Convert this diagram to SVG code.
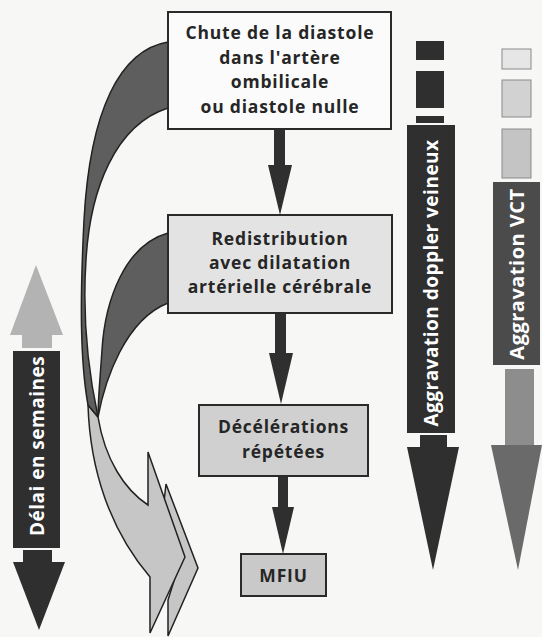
<svg xmlns="http://www.w3.org/2000/svg" width="542" height="637" viewBox="0 0 542 637">
<style>
.bg{fill:#f7f7f6}
.box{stroke:#2a2a2a;stroke-width:2}
.t{font-family:"Open Sans","Liberation Sans",sans-serif;font-weight:700;font-size:17.5px;letter-spacing:0.8px;fill:#262626;text-anchor:middle}
.wt{font-family:"Open Sans","Liberation Sans",sans-serif;font-weight:700;font-size:19px;letter-spacing:0.5px;fill:#ffffff;text-anchor:middle}
.dk{fill:#2f2f2f}
.sw{stroke:#222;stroke-width:1.5;stroke-linejoin:miter}
</style>
<rect class="bg" x="0" y="0" width="542" height="637"/>

<g id="connectors">
  <polygon class="sw" fill="#c6c6c6" points="166,484 198,568 168,636 168,600 178,568 162,520"/>
  <path class="sw" fill="#c6c6c6" d="M 88,405 C 90,470 110,530 150,577 L 150,633 L 185,557 L 148,452 L 148,505 C 125,490 105,460 98,417 Z"/>
  <path class="sw" fill="#5e5e5e" d="M 168,42 C 120,50 90,110 84,220 C 80,300 80,360 88,405 L 98,417 C 88,370 82,320 86,260 C 90,190 115,125 168,108 Z"/>
  <path class="sw" fill="#5e5e5e" d="M 168,233 C 125,245 105,300 102,350 C 100,380 98,400 98,417 C 105,380 125,320 168,303 Z"/>

  <rect class="dk" x="274" y="129" width="11" height="38"/>
  <polygon class="dk" points="268,165 292,165 280,215"/>
  <rect class="dk" x="275" y="313" width="11" height="42"/>
  <polygon class="dk" points="269,353 293,353 281,404"/>
  <rect class="dk" x="278" y="476" width="10" height="33"/>
  <polygon class="dk" points="272,507 294,507 283,554"/>
</g>

<g id="box1">
  <rect class="box" x="168" y="12" width="223" height="117" fill="#fbfbfb"/>
  <text class="t" x="280" y="39">Chute de la diastole</text>
  <text class="t" x="280" y="64">dans l'artère</text>
  <text class="t" x="280" y="88">ombilicale</text>
  <text class="t" x="280" y="113">ou diastole nulle</text>
</g>

<g id="box2">
  <rect class="box" x="168" y="215" width="224" height="98" fill="#e3e3e3"/>
  <text class="t" x="280" y="245">Redistribution</text>
  <text class="t" x="280" y="269">avec dilatation</text>
  <text class="t" x="280" y="293">artérielle cérébrale</text>
</g>

<g id="box3">
  <rect class="box" x="199" y="405" width="169" height="71" fill="#d0d0d0"/>
  <text class="t" x="283.5" y="433">Décélérations</text>
  <text class="t" x="283.5" y="458">répétées</text>
</g>

<g id="box4">
  <rect class="box" x="241" y="554" width="85" height="42" fill="#c9c9c9"/>
  <text class="t" x="283.5" y="582">MFIU</text>
</g>

<g id="delai">
  <polygon fill="#b3b3b3" points="10,335 63,335 36,265"/>
  <rect fill="#b3b3b3" x="22" y="334" width="30" height="14"/>
  <rect class="dk" x="13" y="351" width="47" height="197"/>
  <rect class="dk" x="23" y="550" width="29" height="13"/>
  <polygon class="dk" points="13,562 65,562 39,630"/>
  <text class="wt" transform="translate(43.5,446) rotate(-90)">Délai en semaines</text>
</g>

<g id="doppler">
  <rect class="dk" x="416" y="41" width="28" height="19"/>
  <rect class="dk" x="416" y="71" width="28" height="37"/>
  <rect class="dk" x="416" y="116" width="28" height="7"/>
  <rect class="dk" x="407" y="125" width="48" height="308"/>
  <rect class="dk" x="420" y="435" width="27" height="13"/>
  <polygon class="dk" points="407,447 459,447 433,570"/>
  <text class="wt" transform="translate(438,283) rotate(-90)">Aggravation doppler veineux</text>
</g>

<g id="vct">
  <rect x="502" y="49" width="29" height="20" fill="#e6e6e6" stroke="#8a8a8a" stroke-width="1"/>
  <rect x="502" y="80" width="29" height="37" fill="#d2d2d2" stroke="#8a8a8a" stroke-width="1"/>
  <rect x="502" y="129" width="29" height="49" fill="#c4c4c4" stroke="#8a8a8a" stroke-width="1"/>
  <rect x="493" y="182" width="47" height="183" fill="#4b4b4b"/>
  <rect x="505" y="369" width="29" height="78" fill="#8d8d8d"/>
  <polygon fill="#6a6a6a" points="491,445 542,445 518,570"/>
  <text class="wt" style="font-size:20px" transform="translate(524,274) rotate(-90)">Aggravation VCT</text>
</g>
</svg>
